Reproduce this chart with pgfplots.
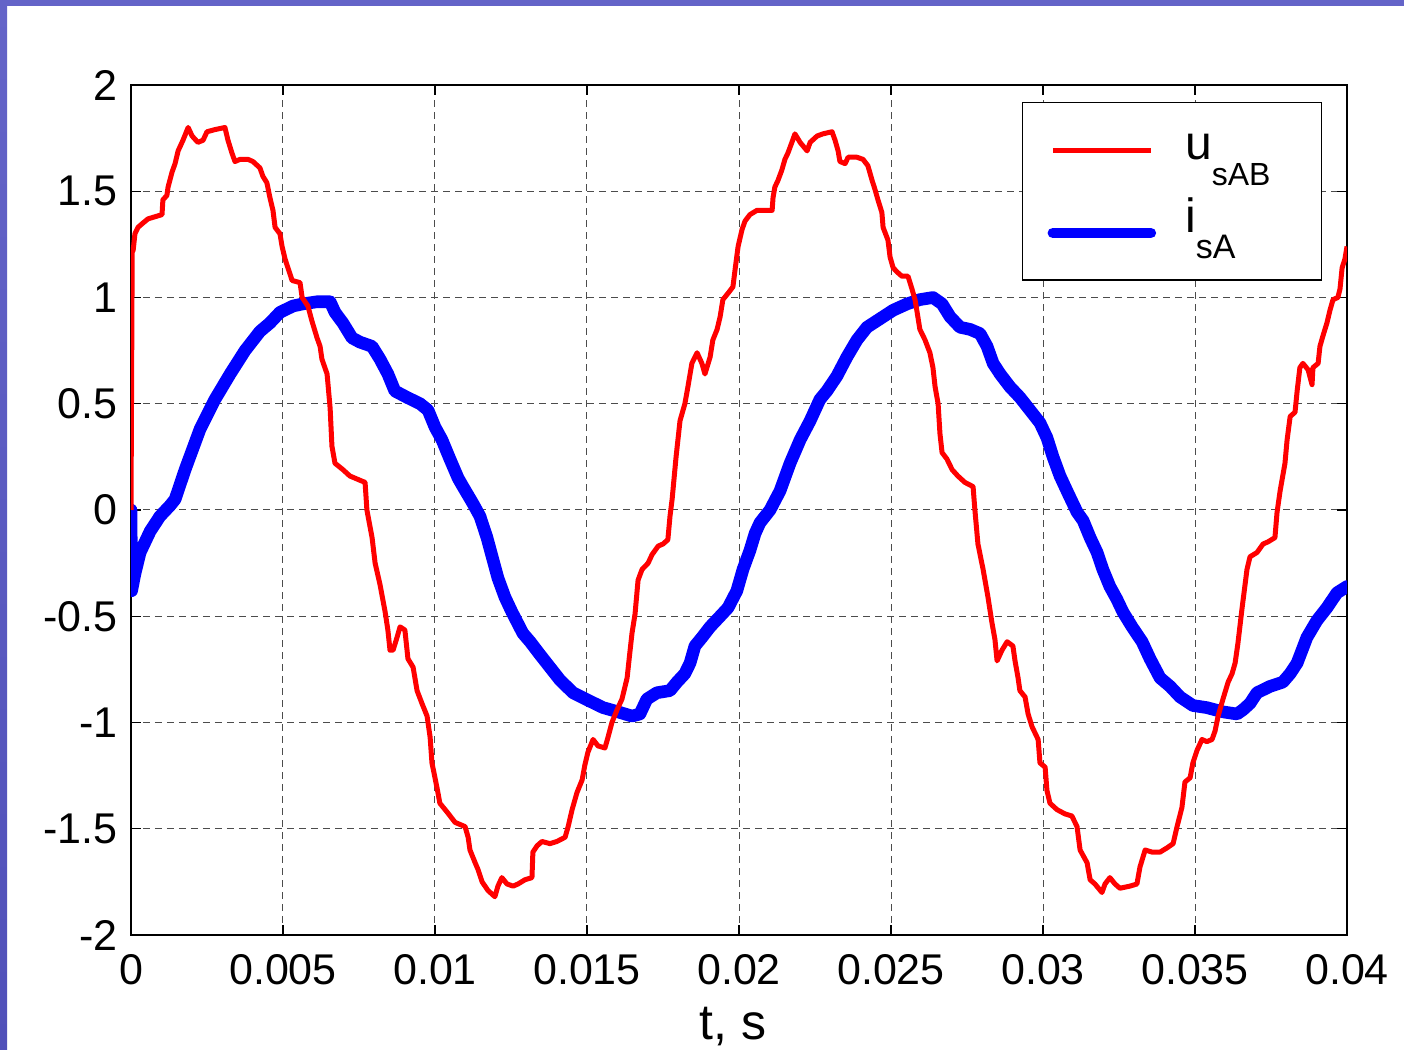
\documentclass[border=0pt]{standalone}
\usepackage{pgfplots}
\pgfplotsset{compat=1.18}
\usepackage{fontspec}
\setmainfont{Liberation Sans}
\definecolor{slidetop}{RGB}{100,100,200}
\definecolor{slidemid}{RGB}{185,185,232}
\definecolor{slidebot}{RGB}{80,80,185}
\begin{document}
\begin{tikzpicture}[x=1pt,y=1pt]
\useasboundingbox (0,0) rectangle (702,525);
\fill[white] (0,0) rectangle (702,525);
\shade[top color=slidetop, middle color=slidemid, bottom color=slidebot] (0,0) rectangle (3.5,525);
\fill[slidetop] (0,522) rectangle (702,525);
\begin{axis}[
  at={(65.5pt,57.5pt)}, anchor=south west,
  scale only axis, width=608pt, height=425pt,
  xmin=0, xmax=0.04, ymin=-2, ymax=2,
  xtick={0,0.005,0.01,0.015,0.02,0.025,0.03,0.035,0.04},
  xticklabels={0,0.005,0.01,0.015,0.02,0.025,0.03,0.035,0.04},
  ytick={-2,-1.5,-1,-0.5,0,0.5,1,1.5,2},
  yticklabels={-2,-1.5,-1,-0.5,0,0.5,1,1.5,2},
  scaled x ticks=false, scaled y ticks=false,
  /pgf/number format/assume math mode=true,
  tick align=inside, major tick length=5pt,
  grid=major,
  major grid style={black!70, line width=0.5pt, dash pattern=on 3.5pt off 2.5pt},
  axis line style={line width=0.7pt},
  every tick/.style={black, line width=0.6pt},
  ticklabel style={font=\fontsize{21.5}{24}\selectfont},
  xticklabel style={anchor=base, inner sep=0pt, yshift=-25pt},
  yticklabel style={anchor=east, inner sep=0pt, xshift=-6.5pt},
  xlabel={t, s},
  xlabel style={at={(axis description cs:0.495,0)}, anchor=base, inner sep=0pt, yshift=-52.5pt, font=\fontsize{25}{28}\selectfont},
  legend cell align=left,
  reverse legend,
  legend style={at={(0.7327,0.98)}, anchor=north west, draw=black, line width=0.6pt, fill=white,
    inner xsep=12.5pt, inner ysep=10.5pt, row sep=6.3pt,
    nodes={inner sep=0pt, anchor=base west, text depth=13pt},
    font=\fontsize{24}{28}\selectfont,
    /tikz/every odd column/.append style={column sep=14.5pt}},
]
\addplot[blue, line width=6.3pt, line join=round, line cap=round,
  legend image code/.code={\draw[blue, line width=5.3pt] (0pt,0pt) -- (49pt,0pt);}] coordinates {
(0,0.0) (0.00002,-0.38) (0.00013,-0.30) (0.00030,-0.20) (0.00063,-0.10) (0.00095,-0.03)
(0.00128,0.02) (0.00145,0.05) (0.00178,0.19) (0.00227,0.38) (0.00276,0.52) (0.00326,0.64)
(0.00375,0.75) (0.00424,0.84) (0.00457,0.88) (0.00490,0.93) (0.00533,0.96) (0.00566,0.97)
(0.00612,0.98) (0.00655,0.98) (0.00671,0.93) (0.00697,0.88) (0.00727,0.81) (0.00753,0.79)
(0.00793,0.77) (0.00819,0.71) (0.00845,0.64) (0.00868,0.56) (0.00908,0.53) (0.00951,0.50)
(0.00977,0.47) (0.01000,0.39) (0.01023,0.33) (0.01049,0.24) (0.01076,0.15) (0.01092,0.11)
(0.01125,0.03) (0.01148,-0.03) (0.01171,-0.13) (0.01188,-0.22) (0.01207,-0.32) (0.01230,-0.41)
(0.01253,-0.48) (0.01289,-0.58) (0.01313,-0.62) (0.01345,-0.68) (0.01378,-0.74) (0.01411,-0.80)
(0.01454,-0.86) (0.01510,-0.90) (0.01553,-0.93) (0.01602,-0.95) (0.01648,-0.97) (0.01674,-0.96)
(0.01697,-0.89) (0.01730,-0.86) (0.01773,-0.85) (0.01796,-0.81) (0.01822,-0.77) (0.01839,-0.72)
(0.01855,-0.64) (0.01878,-0.60) (0.01905,-0.55) (0.01938,-0.50) (0.01964,-0.46) (0.01993,-0.38)
(0.02013,-0.28) (0.02036,-0.19) (0.02053,-0.11) (0.02069,-0.06) (0.02102,0.00) (0.02135,0.09)
(0.02168,0.22) (0.02201,0.33) (0.02234,0.42) (0.02266,0.52) (0.02289,0.56) (0.02322,0.63)
(0.02355,0.72) (0.02388,0.80) (0.02421,0.86) (0.02464,0.90) (0.02507,0.94) (0.02553,0.97)
(0.02595,0.99) (0.02638,1.00) (0.02668,0.97) (0.02694,0.91) (0.02727,0.86) (0.02760,0.85)
(0.02793,0.83) (0.02816,0.77) (0.02836,0.69) (0.02859,0.64) (0.02891,0.58) (0.02924,0.53)
(0.02957,0.47) (0.02990,0.41) (0.03013,0.34) (0.03033,0.25) (0.03056,0.16) (0.03082,0.08)
(0.03112,-0.01) (0.03132,-0.05) (0.03155,-0.13) (0.03178,-0.20) (0.03197,-0.28) (0.03220,-0.36)
(0.03243,-0.42) (0.03263,-0.48) (0.03293,-0.55) (0.03326,-0.62) (0.03352,-0.70) (0.03385,-0.79)
(0.03418,-0.83) (0.03451,-0.88) (0.03493,-0.92) (0.03539,-0.93) (0.03592,-0.95) (0.03638,-0.96)
(0.03658,-0.94) (0.03681,-0.91) (0.03704,-0.86) (0.03747,-0.83) (0.03789,-0.81) (0.03813,-0.77)
(0.03836,-0.72) (0.03868,-0.60) (0.03901,-0.52) (0.03934,-0.46) (0.03967,-0.39) (0.04,-0.36)
};
\addlegendentry{\makebox[55.5pt][l]{i\raisebox{-13pt}{\fontsize{17}{18}\selectfont sA}}}
\addplot[red, line width=2.5pt, line join=round,
  legend image code/.code={\draw[red, line width=2.7pt] (0pt,4.5pt) -- (49pt,4.5pt);}] coordinates {
(0,0.0) (0.00004,1.22) (0.00007,1.22) (0.00013,1.30) (0.00023,1.33) (0.00039,1.35) (0.00056,1.37)
(0.00079,1.38) (0.00102,1.39) (0.00105,1.46) (0.00118,1.48) (0.00122,1.52) (0.00135,1.59)
(0.00145,1.63) (0.00155,1.69) (0.00171,1.74) (0.00188,1.80) (0.00201,1.76) (0.00220,1.73)
(0.00237,1.74) (0.00250,1.78) (0.00276,1.79) (0.00309,1.80) (0.00319,1.74) (0.00332,1.68)
(0.00342,1.64) (0.00359,1.65) (0.00385,1.65) (0.00401,1.64) (0.00424,1.61) (0.00434,1.57)
(0.00447,1.54) (0.00457,1.47) (0.00467,1.41) (0.00474,1.33) (0.00490,1.30) (0.00497,1.24)
(0.00507,1.18) (0.00530,1.08) (0.00556,1.07) (0.00563,1.00) (0.00582,0.96) (0.00595,0.89)
(0.00612,0.81) (0.00622,0.77) (0.00628,0.71) (0.00645,0.64) (0.00655,0.48) (0.00661,0.30)
(0.00671,0.22) (0.00697,0.19) (0.00720,0.16) (0.00753,0.14) (0.00770,0.13) (0.00776,0.00)
(0.00793,-0.13) (0.00803,-0.25) (0.00819,-0.35) (0.00836,-0.48) (0.00845,-0.565) (0.00852,-0.66)
(0.00862,-0.66) (0.00875,-0.60) (0.00885,-0.55) (0.00901,-0.565) (0.00911,-0.70) (0.00928,-0.74)
(0.00941,-0.85) (0.00957,-0.91) (0.00974,-0.97) (0.00984,-1.07) (0.00990,-1.19) (0.01007,-1.31)
(0.01016,-1.38) (0.01039,-1.42) (0.01066,-1.47) (0.01099,-1.49) (0.01109,-1.54) (0.01115,-1.60)
(0.01132,-1.66) (0.01141,-1.69) (0.01155,-1.75) (0.01174,-1.79) (0.01197,-1.82) (0.01207,-1.77)
(0.01220,-1.73) (0.01237,-1.76) (0.01257,-1.77) (0.01273,-1.76) (0.01296,-1.74) (0.01319,-1.73)
(0.01322,-1.61) (0.01336,-1.58) (0.01352,-1.56) (0.01378,-1.57) (0.01401,-1.56) (0.01428,-1.54)
(0.01438,-1.49) (0.01451,-1.41) (0.01467,-1.33) (0.01484,-1.27) (0.01493,-1.20) (0.01503,-1.14)
(0.01520,-1.08) (0.01536,-1.11) (0.01559,-1.12) (0.01569,-1.07) (0.01582,-1.00) (0.01599,-0.94)
(0.01615,-0.89) (0.01632,-0.79) (0.01641,-0.67) (0.01648,-0.58) (0.01658,-0.49) (0.01668,-0.33)
(0.01681,-0.28) (0.01701,-0.25) (0.01714,-0.21) (0.01734,-0.17) (0.01750,-0.16) (0.01766,-0.14)
(0.01773,-0.03) (0.01780,0.05) (0.01793,0.25) (0.01806,0.42) (0.01822,0.50) (0.01832,0.58)
(0.01845,0.69) (0.01862,0.74) (0.01878,0.69) (0.01888,0.64) (0.01905,0.72) (0.01914,0.80)
(0.01928,0.85) (0.01938,0.91) (0.01947,0.99) (0.01964,1.02) (0.01980,1.05) (0.01987,1.13)
(0.01997,1.24) (0.02010,1.32) (0.02020,1.36) (0.02036,1.39) (0.02059,1.41) (0.02109,1.41)
(0.02112,1.47) (0.02118,1.52) (0.02128,1.55) (0.02141,1.60) (0.02151,1.65) (0.02161,1.68)
(0.02174,1.73) (0.02184,1.77) (0.02201,1.73) (0.02224,1.69) (0.02234,1.73) (0.02257,1.76)
(0.02276,1.77) (0.02306,1.78) (0.02316,1.74) (0.02326,1.69) (0.02332,1.64) (0.02349,1.63)
(0.02359,1.66) (0.02388,1.66) (0.02408,1.65) (0.02424,1.62) (0.02438,1.55) (0.02447,1.51)
(0.02457,1.46) (0.02470,1.40) (0.02474,1.33) (0.02490,1.27) (0.02497,1.19) (0.02507,1.14)
(0.02520,1.12) (0.02536,1.10) (0.02556,1.10) (0.02569,1.04) (0.02579,0.99) (0.02586,0.93)
(0.02595,0.85) (0.02612,0.80) (0.02628,0.74) (0.02638,0.67) (0.02645,0.58) (0.02655,0.50)
(0.02661,0.36) (0.02668,0.27) (0.02684,0.24) (0.02701,0.19) (0.02720,0.16) (0.02743,0.13)
(0.02770,0.11) (0.02776,0.00) (0.02786,-0.16) (0.02803,-0.28) (0.02819,-0.41) (0.02832,-0.53)
(0.02842,-0.61) (0.02849,-0.71) (0.02865,-0.66) (0.02882,-0.62) (0.02901,-0.64) (0.02908,-0.71)
(0.02918,-0.79) (0.02924,-0.85) (0.02941,-0.88) (0.02951,-0.96) (0.02964,-1.02) (0.02984,-1.08)
(0.02990,-1.19) (0.03007,-1.21) (0.03013,-1.32) (0.03023,-1.38) (0.03046,-1.41) (0.03072,-1.43)
(0.03095,-1.44) (0.03112,-1.49) (0.03122,-1.60) (0.03145,-1.66) (0.03155,-1.74) (0.03171,-1.76)
(0.03194,-1.80) (0.03204,-1.76) (0.03220,-1.73) (0.03237,-1.76) (0.03253,-1.78) (0.03286,-1.77)
(0.03309,-1.76) (0.03319,-1.68) (0.03336,-1.60) (0.03359,-1.61) (0.03385,-1.61) (0.03408,-1.59)
(0.03428,-1.57) (0.03441,-1.49) (0.03457,-1.40) (0.03467,-1.28) (0.03484,-1.26) (0.03493,-1.19)
(0.03507,-1.13) (0.03523,-1.08) (0.03539,-1.09) (0.03556,-1.08) (0.03566,-1.04) (0.03576,-0.97)
(0.03592,-0.89) (0.03609,-0.81) (0.03622,-0.77) (0.03632,-0.72) (0.03641,-0.63) (0.03655,-0.46)
(0.03671,-0.28) (0.03681,-0.22) (0.03704,-0.20) (0.03724,-0.16) (0.03740,-0.15) (0.03763,-0.13)
(0.03770,-0.01) (0.03780,0.09) (0.03796,0.22) (0.03803,0.33) (0.03813,0.44) (0.03829,0.46)
(0.03836,0.56) (0.03845,0.67) (0.03855,0.69) (0.03872,0.66) (0.03885,0.59) (0.03888,0.67)
(0.03905,0.69) (0.03911,0.77) (0.03921,0.82) (0.03934,0.88) (0.03944,0.94) (0.03954,0.99)
(0.03970,1.00) (0.03977,1.04) (0.03984,1.14) (0.03993,1.18) (0.04,1.24)
};
\addlegendentry{\makebox[55.5pt][l]{\rule{0pt}{18pt}u\raisebox{-13pt}{\fontsize{16}{18}\selectfont sAB}}}
\end{axis}
\end{tikzpicture}
\end{document}
